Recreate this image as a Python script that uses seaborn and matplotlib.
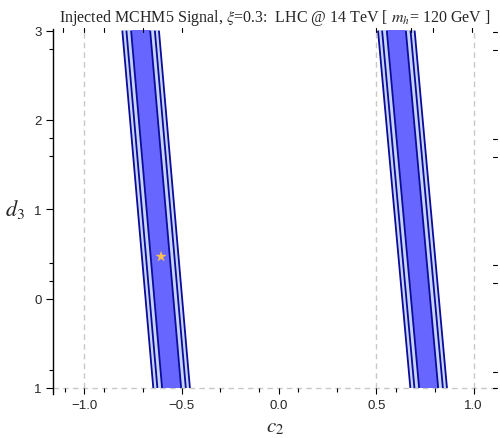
import numpy as np
import matplotlib
matplotlib.use("Agg")
import matplotlib.pyplot as plt
import seaborn as sns

# --- data ---
band_names = ["left", "right"]
center_at_bottom = [-0.551, 0.769]   # c2 of band centre at d3 = -1
center_at_top = [-0.710, 0.603]      # c2 of band centre at d3 = 3
contour_halfwidths = [0.049, 0.073, 0.094]  # 1sigma, 2sigma, 3sigma half-widths in c2
injected_point = [-0.605, 0.47]
x_major = [-1.0, -0.5, 0.0, 0.5, 1.0]
x_labels = ["\u22121.0", "\u22120.5", "0.0", "0.5", "1.0"]
x_minor = [-1.1, -0.9, -0.7, -0.3, -0.1, 0.1, 0.3, 0.6, 0.8]
y_major = [-1, 0, 1, 2, 3]
y_labels = ["1", "0", "1", "2", "3"]
y_minor = [-0.8, 0.2, 0.4, 1.6, 1.8, 2.8]
right_ticks = [-1.0, -0.82, 0.18, 0.38, 1.59, 1.79, 2.78, 2.99]
top_ticks = [-1.11, -1.0, -0.9, -0.7, -0.5, 0.5, 0.68, 0.79, 0.99]
grid_x = [-1.0, 0.5, 1.0]

sns.set_theme(style="white")
plt.rcParams["mathtext.fontset"] = "stix"
plt.rcParams["font.family"] = ["Liberation Sans", "DejaVu Sans"]

fig = plt.figure(figsize=(5.0, 4.39), dpi=100)
ax = fig.add_axes([0.106, 0.114, 0.888, 0.818])

xlim = (-1.16, 1.12)
ylim = (-1.0, 3.0)
xs = np.linspace(xlim[0], xlim[1], 900)
ys = np.linspace(ylim[0], ylim[1], 400)
X, Y = np.meshgrid(xs, ys)
D = np.full(X.shape, np.inf)
for cb, ct in zip(center_at_bottom, center_at_top):
    c = cb + (ct - cb) * (Y - ylim[0]) / (ylim[1] - ylim[0])
    D = np.minimum(D, np.abs(X - c))

h1, h2, h3 = contour_halfwidths
ax.contourf(X, Y, D, levels=[0, h1, h3], colors=["#6767ff", "#c6d4f7"])
ax.contour(X, Y, D, levels=[h1, h2, h3], colors=["#0b0b9c"], linewidths=1.3)

for gx in grid_x:
    ax.axvline(gx, color="#c8c8c8", ls=(0, (4, 3)), lw=1.0, zorder=0)
ax.axhline(-1.0, color="#c8c8c8", ls=(0, (4, 3)), lw=1.0, zorder=0, clip_on=False)

sns.scatterplot(x=[injected_point[0]], y=[injected_point[1]], marker="*", s=70,
                color="#ffc04d", edgecolor="none", ax=ax, zorder=5)

ax.set_xlim(*xlim)
ax.set_ylim(ylim[0], 3.02)

for s in ["top", "right", "bottom"]:
    ax.spines[s].set_visible(False)
ax.spines["left"].set_color("black")
ax.spines["left"].set_linewidth(1.0)
ax.spines["left"].set_bounds(-1.07, 3.02)

ax.set_xticks(x_major)
ax.set_xticklabels(x_labels, fontsize=9.5)
ax.set_xticks(x_minor, minor=True)
ax.set_yticks(y_major)
ax.set_yticklabels(y_labels, fontsize=9.5)
ax.set_yticks(y_minor, minor=True)
ax.tick_params(axis="x", which="both", direction="out", color="black", width=0.8,
               bottom=True, top=False, pad=4)
ax.tick_params(axis="x", which="major", length=4)
ax.tick_params(axis="x", which="minor", length=3)
ax.tick_params(axis="y", which="both", direction="out", color="black", width=0.8,
               left=True, right=False, pad=3)
ax.tick_params(axis="y", which="major", length=5)
ax.tick_params(axis="y", which="minor", length=3)

# right-side frame ticks
for ty in right_ticks:
    ax.plot([1.0, 0.99], [ty, ty], transform=ax.get_yaxis_transform(), color="black",
            lw=0.8, clip_on=False)
# top frame ticks
for tx in top_ticks:
    ax.plot([tx, tx], [1.003, 0.992], transform=ax.get_xaxis_transform(), color="black",
            lw=0.8, clip_on=False)

ax.set_xlabel(r"$c_2$", fontsize=15, labelpad=4)
ax.set_ylabel(r"$d_3$", fontsize=16, rotation=0, labelpad=14, va="center")
ax.set_title(r"Injected MCHM5 Signal, $\xi$=0.3:  LHC @ 14 TeV [ $m_h$= 120 GeV ]",
             fontsize=11.5, family="Liberation Serif", pad=6)

fig.savefig("out.png", dpi=100)
